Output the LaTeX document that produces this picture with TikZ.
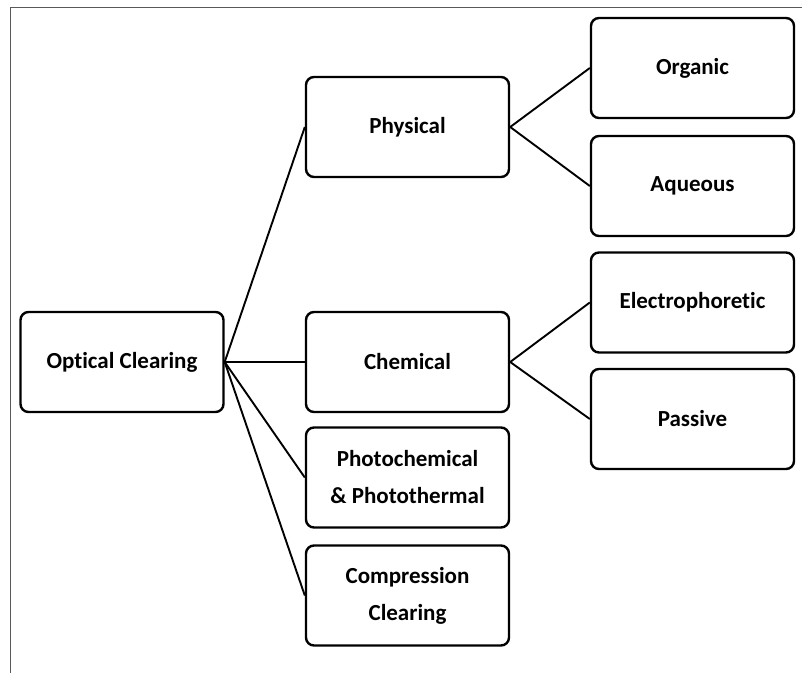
\documentclass[tikz,border=0pt]{standalone}
\usepackage{fontspec}
\setmainfont{Carlito}[Ligatures=NoCommon]
\begin{document}
\begin{tikzpicture}[x=1pt,y=-1pt,
  box/.style={draw, line width=2.4pt, rounded corners=8pt, minimum width=203pt, minimum height=100pt,
    align=center, inner sep=0pt, font=\bfseries\fontsize{23}{37}\selectfont},
  link/.style={line width=1.9pt},
  frameline/.style={draw=black!65, line width=1pt}]
\useasboundingbox (0,0) rectangle (802,673);
\draw[frameline] (10,673) -- (10,7) -- (802,7);
\node[box] (oc)  at (122,362) {Optical Clearing};
\node[box] (phy) at (407.5,127) {Physical};
\node[box] (che) at (407.5,362) {Chemical};
\node[box] (pho) at (407.5,477.5) {Photochemical\\\& Photothermal};
\node[box] (com) at (407.5,595.5) {Compression\\Clearing};
\node[box] (org) at (692.5,68) {Organic};
\node[box] (aqu) at (692.5,186) {Aqueous};
\node[box] (ele) at (692.5,302.5) {Electrophoretic};
\node[box] (pas) at (692.5,419) {Passive};
\draw[link] (oc.east) -- (phy.west);
\draw[link] (oc.east) -- (che.west);
\draw[link] (oc.east) -- (pho.west);
\draw[link] (oc.east) -- (com.west);
\draw[link] (phy.east) -- (org.west);
\draw[link] (phy.east) -- (aqu.west);
\draw[link] (che.east) -- (ele.west);
\draw[link] (che.east) -- (pas.west);
\end{tikzpicture}
\end{document}
